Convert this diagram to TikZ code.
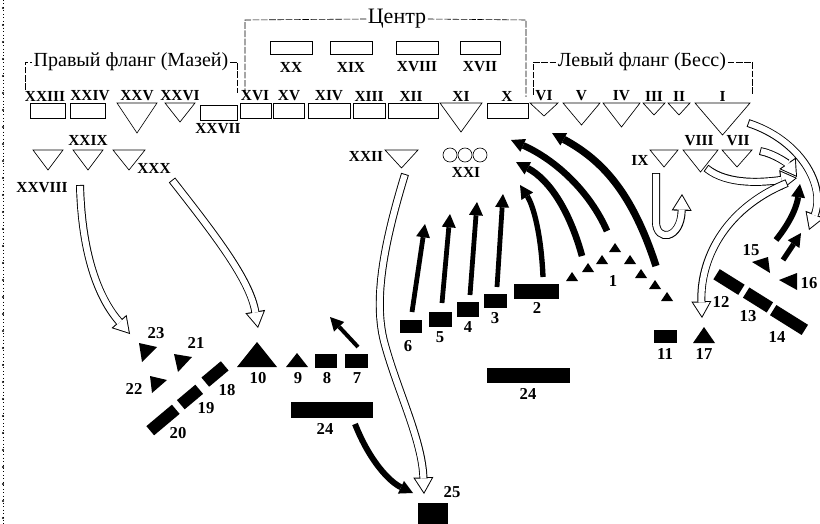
\documentclass[tikz,border=0pt]{standalone}
\usepackage{fontspec}
\setmainfont{Liberation Serif}
\usetikzlibrary{arrows.meta, positioning, calc}

\newcommand{\hollowarrow}[1]{\draw[hollowrim] #1; \draw[hollowcore] #1;}

\begin{document}
\begin{tikzpicture}[
  x=0.75pt, y=-0.75pt,
  unitline/.style={line width=0.5pt},
  rom/.style={font=\fontsize{11.5}{14}\selectfont\bfseries, inner sep=0.5pt},
  num/.style={font=\fontsize{12.5}{14}\selectfont\bfseries, inner sep=0.5pt},
  flank/.style={font=\fontsize{15}{17}\selectfont, inner sep=1pt},
  bracket/.style={line width=0.45pt, dash pattern=on 5pt off 1.2pt},
  blkbox/.style={fill=black, inner sep=0pt, minimum height=9pt},
  push/.style={line width=#1, -{Triangle[length=10pt,width=10.5pt,line width=0pt]}},
  push/.default=3.6pt,
  hollowrim/.style={line width=6pt, -{Triangle[length=12.5pt,width=15pt,line width=0pt]}},
  hollowcore/.style={white, line width=4.6pt, shorten <=0.7pt, shorten >=1.4pt,
    -{Triangle[length=10.3pt,width=12.4pt,line width=0pt]}}
]
\useasboundingbox (0,0) rectangle (820,524);

% scanned page edge
\draw[dotted, line width=0.6pt] (3,0) -- (3,524);
\foreach \y in {8,25,...,524} \fill (3,\y) circle (1.1);

% brackets of the three groups
\node[flank, font=\fontsize{16.5}{18}\selectfont] (centre) at (397,19) {Центр};
\draw[bracket] (245,95) -- (245,20) -- (centre.west);
\draw[bracket] (centre.east) -- (526,20) -- (526,97);

\node[flank] (rightflank) at (131,62) {Правый фланг (Мазей)};
\draw[bracket] (25,90) -- (25,62) -- (rightflank.west);
\draw[bracket] (rightflank.east) -- (237,62) -- (237,93);

\node[flank] (leftflank) at (642,62) {Левый фланг (Бесс)};
\draw[bracket] (533,95) -- (533,62) -- (leftflank.west);
\draw[bracket] (leftflank.east) -- (752,62) -- (752,95);

% reserve of the centre
\foreach \xa/\xb/\nm in {270/312/XX, 330/372/XIX, 396/438/XVIII, 460/500/XVII} {
  \draw[unitline] (\xa,41) rectangle (\xb,54);
  \node[rom] (l\nm) at ({(\xa+\xb)/2},67) {\nm};
}

% first line: boxes
\foreach \xa/\xb/\lx/\nm in {30/65/45/XXIII, 70/105/90/XXIV, 240/271/255/XVI, 273/304/289/XV,
    308/350/329/XIV, 353/385/369/XIII, 388/438/411/XII, 487/528/507/X} {
  \draw[unitline] (\xa,103) rectangle (\xb,118);
  \node[rom] (l\nm) at (\lx,96) {\nm};
}
\draw[unitline] (200,105) rectangle (237,120);
\node[rom] (lXXVII) at (218,129) {XXVII};

% first line: triangles
\foreach \xa/\xb/\ya/\nm in {117/157/133/XXV, 165/195/122/XXVI, 440/482/132/XI,
    530/558/116/VI, 563/600/125/V, 603/640/127/IV, 643/665/115/III,
    668/690/115/II, 695/750/135/I} {
  \draw[unitline] (\xa,103) -- (\xb,103) -- ({(\xa+\xb)/2},\ya) -- cycle;
  \node[rom] (l\nm) at ({(\xa+\xb)/2},96) {\nm};
}

% second line
\foreach \xa/\xb/\ya/\nm in {33/63/170/XXVIII, 73/103/170/XXIX, 113/145/170/XXX,
    385/418/168/XXII, 650/678/167/IX, 683/718/172/VIII, 722/752/167/VII} {
  \draw[unitline] (\xa,150) -- (\xb,150) -- ({(\xa+\xb)/2},\ya) -- cycle;
}
\node[rom] (lXXVIII) at (42,188) {XXVIII};
\node[rom] (lXXIX) at (88,140) {XXIX};
\node[rom] (lXXX) at (154,168) {XXX};
\node[rom] (lXXII) at (366,156) {XXII};
\node[rom] (lIX) at (640,160) {IX};
\node[rom] (lVIII) at (699,141) {VIII};
\node[rom] (lVII) at (738,141) {VII};
\foreach \x in {450,465,480} \draw[unitline] (\x,155) circle (7);
\node[rom] (lXXI) at (466,172) {XXI};

% black units
\foreach \xa/\ya/\xb/\yb/\nm/\lx/\ly in {400/320/422/333/6/408/346,
    429/312/452/327/5/440/337, 457/302/479/317/4/468/327, 484/294/507/308/3/495/318,
    514/284/559/299/2/537/308, 315/354/337/368/8/327/378, 345/354/368/368/7/357/378,
    654/330/677/343/11/665/354, 291/402/373/418/24/325/429, 487/368/570/383/24/528/394} {
  \fill (\xa,\ya) rectangle (\xb,\yb);
  \node[num] at (\lx,\ly) {\nm};
}
\fill (418,503) rectangle (448,526);
\node[num] (n25) at (452,492) {25};

\fill (237,367) -- (277,367) -- (257,342) -- cycle;
\node[num] (n10) at (258,378) {10};
\fill (286,367) -- (308,367) -- (297,353) -- cycle;
\node[num] (n9) at (298,378) {9};
\fill (693,343) -- (715,343) -- (704,327) -- cycle;
\node[num] (n17) at (704,354) {17};

% triangles of 1
\foreach \x/\y in {572/277, 588/268, 602/260, 615/248, 630/260, 641/274, 655/285, 667/297}
  \fill (\x-6,\y+4) -- (\x+6,\y+4) -- (\x,\y-5) -- cycle;
\node[num] (n1) at (613,281) {1};

% 18, 19, 20 and 21, 22, 23
\node[blkbox, minimum width=19pt, rotate=40] (u18) at (215,374) {};
\node[blkbox, minimum width=18pt, rotate=40] (u19) at (190,397) {};
\node[blkbox, minimum width=25pt, rotate=40] (u20) at (163,420) {};
\node[num] (n18) at (227,390) {18};
\node[num] (n19) at (206,408) {19};
\node[num] (n20) at (178,433) {20};
\fill (139,343) -- (157,347) -- (142,362) -- cycle;
\fill (174,354) -- (192,357) -- (178,372) -- cycle;
\fill (150,376) -- (167,380) -- (152,393) -- cycle;
\node[num] (n23) at (156,333) {23};
\node[num] (n21) at (196,343) {21};
\node[num] (n22) at (134,389) {22};

% 12, 13, 14 and 15, 16
\node[blkbox, minimum width=22pt, rotate=-32] (u12) at (729,282) {};
\node[blkbox, minimum width=21pt, rotate=-32] (u13) at (758,300) {};
\node[blkbox, minimum width=28pt, rotate=-32] (u14) at (789,320) {};
\node[num] (n12) at (721,302) {12};
\node[num] (n13) at (748,316) {13};
\node[num] (n14) at (777,337) {14};
\fill (752,262) -- (768,257) -- (770,273) -- cycle;
\fill (779,280) -- (797,273) -- (797,290) -- cycle;
\node[num] (n15) at (751,250) {15};
\node[num] (n16) at (809,283) {16};

% hollow arrows
\hollowarrow{(80,185) .. controls (82,262) and (102,302) .. (130,334)}
\hollowarrow{(172,180) .. controls (215,235) and (250,280) .. (258,328)}
\hollowarrow{(405,174) .. controls (385,240) and (372,300) .. (385,345) .. controls (398,392) and (422,440) .. (424,494)}
\hollowarrow{(656,173) -- (656,222) .. controls (656,242) and (681,240) .. (682,194)}
\hollowarrow{(706,168) .. controls (728,186) and (765,182) .. (797,178)}
\hollowarrow{(760,151) .. controls (775,154) and (788,164) .. (797,177)}
\hollowarrow{(748,123) .. controls (800,140) and (826,185) .. (809,230)}
\hollowarrow{(787,183) .. controls (722,210) and (700,262) .. (702,318)}

% black arrows
\draw[push] (412,312) -- (425,224);
\draw[push] (442,303) -- (450,214);
\draw[push] (470,295) -- (477,202);
\draw[push] (497,287) -- (503,194);
\draw[push=4pt] (543,277) .. controls (541,232) and (533,205) .. (520,185);
\draw[push=5pt] (582,256) .. controls (570,212) and (550,180) .. (516,162);
\draw[push=5pt] (607,231) .. controls (590,192) and (556,160) .. (511,140);
\draw[push=5.5pt] (656,266) .. controls (632,192) and (602,160) .. (552,133);
\draw[push=3pt] (358,347) -- (330,317);
\draw[push=4.5pt] (355,424) .. controls (370,462) and (390,482) .. (413,493);
\draw[push=4.5pt] (776,240) .. controls (792,220) and (797,205) .. (800,184);
\draw[push=4pt] (783,260) -- (801,233);

\end{tikzpicture}
\end{document}
